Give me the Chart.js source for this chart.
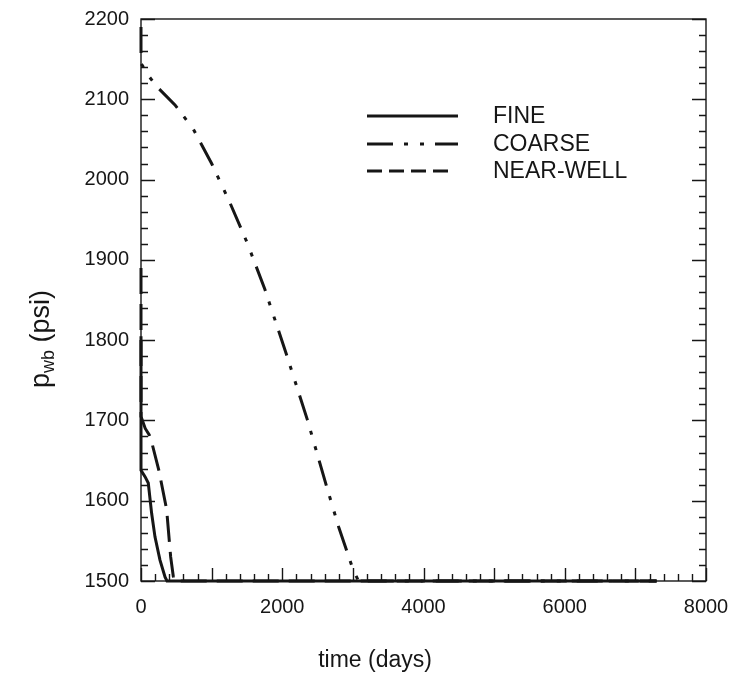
<!DOCTYPE html>
<html>
<head>
<meta charset="utf-8">
<script src="https://cdn.jsdelivr.net/npm/chart.js@4.4.0/dist/chart.umd.min.js"></script>
<style>
  html, body { margin: 0; padding: 0; background: #fff; }
  #wrap { width: 736px; height: 679px; }
</style>
</head>
<body>
<div id="wrap"><canvas id="pwb-chart" width="736" height="679"></canvas></div>
<script>
// wellbore pressure vs time, three grid models
const fineTime = [0, 0, 57, 103, 151, 198, 269, 340, 368, 7300];
const finePsi = [1805, 1638, 1630, 1622, 1584, 1555, 1526, 1505, 1500, 1500];

const coarseTime = [0, 0, 100, 222, 481, 740, 1000, 1250, 1500, 1755, 2060, 2355, 2627, 2800, 3000, 3080, 7300];
const coarsePsi = [2190, 2145, 2130, 2116, 2093, 2063, 2020, 1973, 1922, 1863, 1782, 1701, 1618, 1567, 1515, 1500, 1500];

const nearTime = [0, 0, 60, 117, 160, 255, 363, 420, 457, 470, 7300];
const nearPsi = [1890, 1705, 1690, 1682, 1670, 1637, 1589, 1530, 1506, 1500, 1500];

const seriesNames = ['FINE', 'COARSE', 'NEAR-WELL'];

const xMajor = 2000, xTickStep = 1000, xMinor = 200;
const yMajor = 100, yMinor = 20;

const ink = '#161616';
const fontFam = '"Liberation Sans", Arial, Helvetica, sans-serif';

function toPoints(ts, ps) {
    return ts.map((t, i) => ({ x: t, y: ps[i] }));
}

// inward ticks, frame, legend and axis titles
const framePlugin = {
    id: 'frame',
    afterDraw(chart) {
        const ctx = chart.ctx;
        const a = chart.chartArea;
        const xs = chart.scales.x, ys = chart.scales.y;
        ctx.save();
        ctx.strokeStyle = ink;
        ctx.lineWidth = 1.4;
        ctx.strokeRect(a.left, a.top, a.right - a.left, a.bottom - a.top);

        ctx.beginPath();
        for (let v = xs.min; v <= xs.max; v += xMinor) {
            const px = Math.round(xs.getPixelForValue(v)) + 0.5;
            const len = (v % xTickStep === 0) ? 13 : 7;
            ctx.moveTo(px, a.bottom);
            ctx.lineTo(px, a.bottom - len);
        }
        for (let v = ys.min; v <= ys.max; v += yMinor) {
            const py = Math.round(ys.getPixelForValue(v)) + 0.5;
            const len = (v % yMajor === 0) ? 14 : 7;
            ctx.moveTo(a.left, py);
            ctx.lineTo(a.left + len, py);
            ctx.moveTo(a.right, py);
            ctx.lineTo(a.right - len, py);
        }
        ctx.stroke();

        // legend
        const legY = [116, 144, 171];
        const legDash = [[], [26, 11, 4, 12, 4, 11], [15, 7]];
        const legEnd = [458, 458, 450];
        ctx.font = '23px ' + fontFam;
        ctx.fillStyle = ink;
        ctx.textBaseline = 'middle';
        chart.data.datasets.forEach((ds, i) => {
            ctx.beginPath();
            ctx.setLineDash(legDash[i]);
            ctx.lineWidth = 3;
            ctx.lineCap = 'butt';
            ctx.moveTo(367, legY[i]);
            ctx.lineTo(legEnd[i], legY[i]);
            ctx.stroke();
            ctx.setLineDash([]);
            ctx.fillText(ds.label, 493, legY[i] + 1);
        });

        // x title
        ctx.textAlign = 'center';
        ctx.textBaseline = 'middle';
        ctx.font = '23px ' + fontFam;
        ctx.fillText('time (days)', 375, 661);

        // y title with subscript
        ctx.save();
        ctx.translate(40, 339);
        ctx.rotate(-Math.PI / 2);
        const big = '27px ' + fontFam, small = '18px ' + fontFam;
        ctx.font = big;
        const wP = ctx.measureText('p').width;
        const wRest = ctx.measureText(' (psi)').width;
        ctx.font = small;
        const wSub = ctx.measureText('wb').width;
        let x0 = -(wP + wSub + wRest) / 2;
        ctx.textAlign = 'left';
        ctx.textBaseline = 'alphabetic';
        ctx.font = big;
        ctx.fillText('p', x0, 9);
        ctx.font = small;
        ctx.fillText('wb', x0 + wP, 14);
        ctx.font = big;
        ctx.fillText(' (psi)', x0 + wP + wSub, 9);
        ctx.restore();

        ctx.restore();
    }
};

const plainTick = v => String(v);

const ctx = document.getElementById('pwb-chart');
const pwbChart = new Chart(ctx.getContext('2d'), {
    type: 'line',
    data: {
        datasets: [
            {
                label: seriesNames[0],
                data: toPoints(fineTime, finePsi),
                borderColor: ink,
                borderWidth: 3,
                clip: 4
            },
            {
                label: seriesNames[1],
                data: toPoints(coarseTime, coarsePsi),
                borderColor: ink,
                borderWidth: 3,
                borderDash: [26, 11, 4, 12, 4, 11],
                clip: 4
            },
            {
                label: seriesNames[2],
                data: toPoints(nearTime, nearPsi),
                borderColor: ink,
                borderWidth: 3,
                borderDash: [26, 10],
                clip: 4
            }
        ]
    },
    options: {
        responsive: false,
        animation: false,
        devicePixelRatio: 1,
        layout: { padding: { top: 19, right: 30, left: 0, bottom: 0 } },
        elements: {
            point: { radius: 0 },
            line: { tension: 0, borderCapStyle: 'butt', fill: false }
        },
        plugins: {
            legend: { display: false },
            tooltip: { enabled: false }
        },
        scales: {
            x: {
                type: 'linear',
                min: 0,
                max: 8000,
                grid: { display: false, drawTicks: false },
                border: { display: false },
                ticks: {
                    stepSize: xMajor,
                    padding: 14,
                    color: ink,
                    font: { family: fontFam, size: 20 },
                    maxRotation: 0,
                    callback: plainTick
                },
                afterFit(scale) {
                    scale.height = 98;
                    scale.paddingLeft = 0;
                    scale.paddingRight = 0;
                }
            },
            y: {
                type: 'linear',
                min: 1500,
                max: 2200,
                grid: { display: false, drawTicks: false },
                border: { display: false },
                ticks: {
                    stepSize: yMajor,
                    padding: 12,
                    color: ink,
                    font: { family: fontFam, size: 20 },
                    callback: plainTick
                },
                afterFit(scale) {
                    scale.width = 141;
                    scale.paddingTop = 0;
                    scale.paddingBottom = 0;
                }
            }
        }
    },
    plugins: [framePlugin]
});
</script>
</body>
</html>
